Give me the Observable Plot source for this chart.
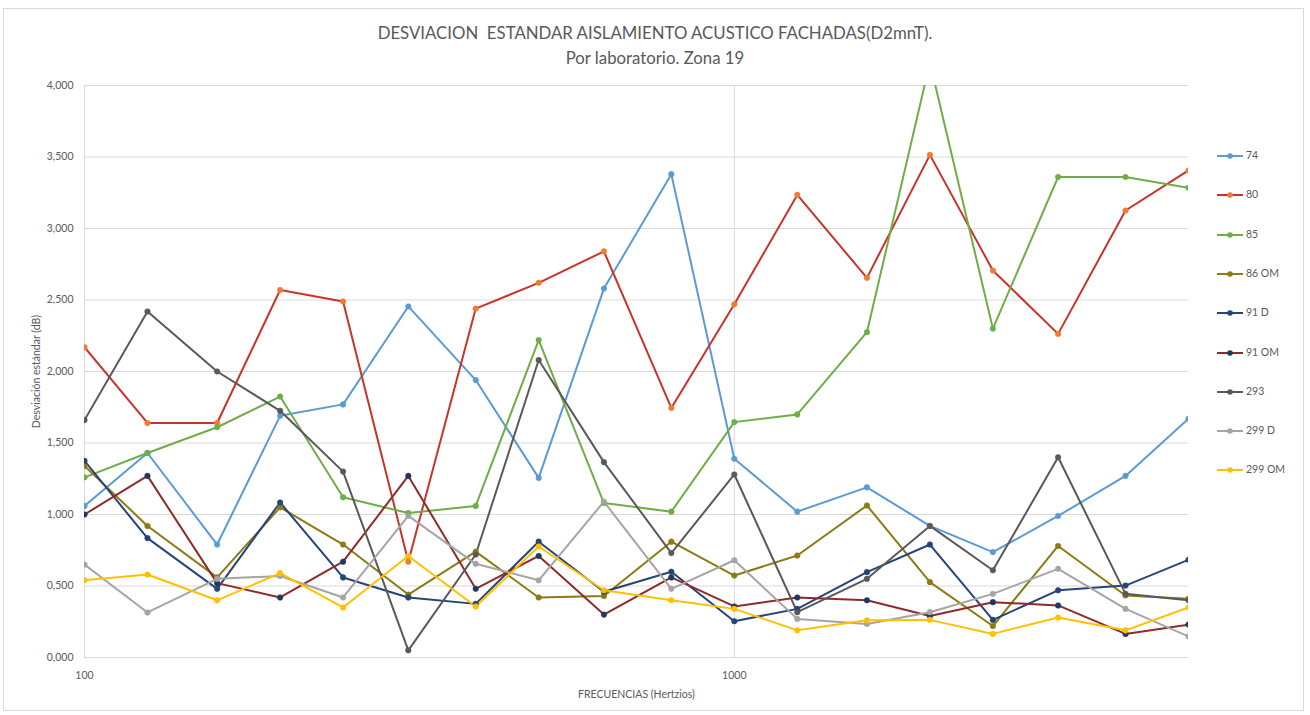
<!DOCTYPE html>
<html>
<head>
<meta charset="utf-8">
<script src="https://cdn.jsdelivr.net/npm/d3@7"></script>
<script src="https://cdn.jsdelivr.net/npm/@observablehq/plot@0.6"></script>
<style>
  html, body { margin: 0; padding: 0; background: #fff; }
  #wrap { position: relative; width: 1310px; height: 715px; overflow: hidden; font-family: Lato, "Open Sans", sans-serif; color: #595959; }
  #frame { position: absolute; left: 3px; top: 8px; width: 1301px; height: 703px; border: 1px solid #d9d9d9; box-sizing: border-box; }
  #title { position: absolute; left: 0; width: 1310px; top: 20px; text-align: center; font-size: 16.8px; line-height: 25px; color: #595959; }
  #chart { position: absolute; left: 0; top: 70px; }
  #legend { position: absolute; left: 1216px; top: 146px; font-size: 10.5px; color: #595959; }
  .item { position: absolute; left: 0; height: 20px; white-space: nowrap; }
  .item svg { position: absolute; left: 0; top: 0; }
  .item span { position: absolute; left: 30px; top: 3px; }
</style>
</head>
<body>
<div id="wrap">
  <div id="frame"></div>
  <div id="title">DESVIACION&nbsp; ESTANDAR AISLAMIENTO ACUSTICO FACHADAS(D2mnT).<br>Por laboratorio. Zona 19</div>
  <div id="chart"></div>
  <div id="legend"></div>
</div>
<script>
const freqs = [100, 125, 160, 200, 250, 315, 400, 500, 630, 800, 1000, 1250, 1600, 2000, 2500, 3150, 4000, 5000];
const seriesNames = ["74", "80", "85", "86 OM", "91 D", "91 OM", "293", "299 D", "299 OM"];

const s74    = [1.06, 1.43, 0.79, 1.69, 1.77, 2.455, 1.94, 1.256, 2.58, 3.38, 1.39, 1.02, 1.19, 0.92, 0.737, 0.99, 1.27, 1.67];
const s80    = [2.17, 1.64, 1.64, 2.57, 2.49, 0.67, 2.44, 2.62, 2.84, 1.745, 2.47, 3.235, 2.655, 3.515, 2.706, 2.263, 3.126, 3.406];
const s85    = [1.26, 1.43, 1.61, 1.825, 1.12, 1.01, 1.06, 2.22, 1.08, 1.02, 1.646, 1.70, 2.275, 4.16, 2.30, 3.36, 3.36, 3.285];
const s86OM  = [1.34, 0.92, 0.56, 1.05, 0.79, 0.44, 0.74, 0.42, 0.43, 0.81, 0.573, 0.713, 1.063, 0.527, 0.22, 0.78, 0.434, 0.41];
const s91D   = [1.375, 0.835, 0.48, 1.084, 0.56, 0.42, 0.375, 0.81, 0.46, 0.60, 0.254, 0.34, 0.597, 0.79, 0.263, 0.47, 0.503, 0.683];
const s91OM  = [1.00, 1.27, 0.52, 0.42, 0.67, 1.27, 0.48, 0.71, 0.30, 0.56, 0.357, 0.42, 0.40, 0.29, 0.387, 0.364, 0.165, 0.23];
const s293   = [1.66, 2.42, 2.00, 1.725, 1.30, 0.05, 0.72, 2.08, 1.366, 0.73, 1.28, 0.317, 0.55, 0.92, 0.61, 1.40, 0.445, 0.40];
const s299D  = [0.65, 0.315, 0.55, 0.57, 0.42, 0.99, 0.655, 0.54, 1.09, 0.48, 0.68, 0.27, 0.235, 0.317, 0.445, 0.62, 0.34, 0.147];
const s299OM = [0.54, 0.58, 0.40, 0.59, 0.35, 0.71, 0.357, 0.776, 0.47, 0.40, 0.34, 0.19, 0.26, 0.263, 0.165, 0.28, 0.19, 0.35];

const seriesValues = [s74, s80, s85, s86OM, s91D, s91OM, s293, s299D, s299OM];
const lineColors   = ["#5B9BD5", "#C8332B", "#70AD47", "#8C7A14", "#264478", "#8E2A2A", "#595959", "#A5A5A5", "#FFC000"];
const markerColors = ["#5B9BD5", "#ED7D31", "#70AD47", "#8C7A14", "#264478", "#1F3864", "#595959", "#A5A5A5", "#FFC000"];
const yTicks = [0, 0.5, 1, 1.5, 2, 2.5, 3, 3.5, 4];
const xTicks = [100, 1000];

const data = [];
seriesNames.forEach((name, i) => {
  seriesValues[i].forEach((v, j) => data.push({series: name, freq: freqs[j], value: v, line: lineColors[i], marker: markerColors[i]}));
});

const fmt = v => d3.format(".3f")(v).replace(".", ",");

const chart = Plot.plot({
  width: 1310,
  height: 635,
  marginLeft: 84,
  marginRight: 122,
  marginTop: 15,
  marginBottom: 48,
  style: {fontFamily: "Lato, 'Open Sans', sans-serif", fontSize: "11px", color: "#595959", background: "transparent"},
  x: {type: "log", domain: [100, 5000]},
  y: {domain: [0, 4]},
  color: {type: "identity"},
  marks: [
    Plot.gridY(yTicks, {stroke: "#d9d9d9", strokeOpacity: 1, strokeWidth: 1}),
    Plot.gridX(xTicks, {stroke: "#d9d9d9", strokeOpacity: 1, strokeWidth: 1}),
    Plot.axisY(yTicks, {tickSize: 0, tickPadding: 11, tickFormat: fmt, fill: "#595959", fontSize: 10.5,
      label: "Desviación estándar (dB)", labelAnchor: "center", labelArrow: "none", labelOffset: 52}),
    Plot.axisX(xTicks, {tickSize: 0, tickPadding: 14, tickFormat: d => String(d), fill: "#595959", fontSize: 10.5,
      label: "FRECUENCIAS (Hertzios)", labelAnchor: "center", labelArrow: "none", labelOffset: 40}),
    Plot.line(data, {x: "freq", y: "value", z: "series", stroke: "line", strokeWidth: 2, clip: true}),
    Plot.dot(data, {x: "freq", y: "value", fill: "marker", stroke: "marker", r: 2.8, strokeWidth: 0.5, clip: true})
  ]
});
document.getElementById("chart").appendChild(chart);

const legend = document.getElementById("legend");
seriesNames.forEach((name, i) => {
  const div = document.createElement("div");
  div.className = "item";
  div.style.top = (i * 39.3) + "px";
  div.innerHTML = `<svg width="30" height="20"><line x1="1" x2="27" y1="10" y2="10" stroke="${lineColors[i]}" stroke-width="2"/><circle cx="14" cy="10" r="2.8" fill="${markerColors[i]}"/></svg><span>${name}</span>`;
  legend.appendChild(div);
});
</script>
</body>
</html>
